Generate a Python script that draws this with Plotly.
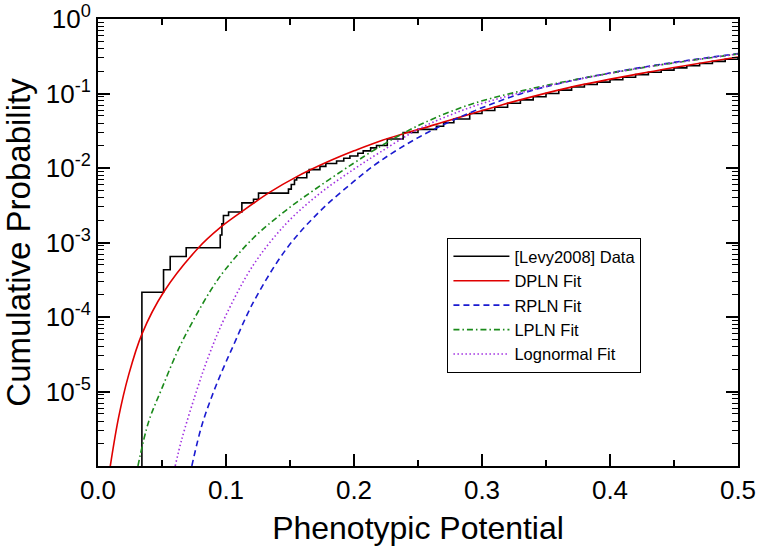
import plotly.graph_objects as go

# ---- data ----
data_x = [0.0343, 0.0343, 0.0512, 0.0564, 0.0689, 0.0955, 0.0968, 0.0980, 0.1020, 0.1124,
          0.1215, 0.1254, 0.1488, 0.1510, 0.1535, 0.1552, 0.1631, 0.1650, 0.1734, 0.1780,
          0.1864, 0.1920, 0.1968, 0.2030, 0.2072, 0.2130, 0.2176, 0.2260, 0.2384, 0.2500,
          0.2644, 0.2700, 0.2780, 0.2904, 0.3000, 0.3100, 0.3200, 0.3300, 0.3400, 0.3500,
          0.3600, 0.3700, 0.3800, 0.3900, 0.4000, 0.4100, 0.4200, 0.4300, 0.4400, 0.4500,
          0.4600, 0.4700, 0.4800, 0.4900, 0.5000]
data_y = [1e-7, 2.15e-4, 4.3e-4, 6.5e-4, 8.5e-4, 1.26e-3, 1.78e-3, 2.3e-3, 2.57e-3, 3.4e-3,
          3.8e-3, 4.6e-3, 5.2e-3, 6.0e-3, 6.9e-3, 7.4e-3, 8.7e-3, 9.5e-3, 0.0105, 0.0115,
          0.0124, 0.0135, 0.0145, 0.0158, 0.0170, 0.0186, 0.0200, 0.0245, 0.0300, 0.0330,
          0.0363, 0.0405, 0.0455, 0.0540, 0.0590, 0.0655, 0.0740, 0.0820, 0.0905, 0.1000,
          0.1110, 0.1220, 0.1320, 0.1420, 0.1530, 0.1650, 0.1790, 0.1930, 0.2060, 0.2210,
          0.2360, 0.2530, 0.2700, 0.2880, 0.3050]

dpln_x = [0.0096, 0.0161, 0.0239, 0.0343, 0.0512, 0.0785, 0.0954, 0.111, 0.134, 0.155,
          0.179, 0.200, 0.220, 0.264, 0.316, 0.368, 0.428, 0.500]
dpln_y = [1.0e-6, 4.5e-6, 1.66e-5, 5.9e-5, 2.15e-4, 8.5e-4, 1.58e-3, 2.5e-3, 4.7e-3, 7.6e-3,
          0.0120, 0.0170, 0.0229, 0.0385, 0.0708, 0.120, 0.191, 0.309]

rpln_x = [0.0733, 0.0811, 0.0902, 0.0993, 0.1045, 0.1214, 0.1474, 0.1734, 0.1994, 0.2202,
          0.2514, 0.2904, 0.3294, 0.368, 0.428, 0.500]
rpln_y = [1.0e-6, 3.5e-6, 9.8e-6, 2.34e-5, 3.7e-5, 1.58e-4, 8.3e-4, 2.63e-3, 6.5e-3, 0.0123,
          0.0263, 0.055, 0.098, 0.146, 0.229, 0.343]

lpln_x = [0.0312, 0.0395, 0.0499, 0.0629, 0.0759, 0.0889, 0.0993, 0.1214, 0.1474, 0.1734,
          0.1994, 0.2176, 0.2514, 0.2904, 0.3294, 0.368, 0.428, 0.500]
lpln_y = [1.0e-6, 3.9e-6, 1.1e-5, 3.7e-5, 1.0e-4, 2.4e-4, 4.3e-4, 1.15e-3, 2.75e-3, 5.75e-3,
          0.0115, 0.0182, 0.038, 0.0708, 0.107, 0.148, 0.226, 0.339]

logn_x = [0.0603, 0.0655, 0.0759, 0.0863, 0.0993, 0.1214, 0.1474, 0.1734, 0.1994,
          0.2202, 0.2514, 0.2904, 0.3294, 0.368, 0.428, 0.500]
logn_y = [1.0e-6, 2.3e-6, 8.9e-6, 2.95e-5, 1.0e-4, 5.0e-4, 1.82e-3, 4.57e-3, 9.5e-3,
          0.0162, 0.0339, 0.0646, 0.102, 0.146, 0.226, 0.339]

x_ticks = [0.0, 0.1, 0.2, 0.3, 0.4, 0.5]
x_minor = [0.05, 0.15, 0.25, 0.35, 0.45]
y_ticks = [1, 1e-1, 1e-2, 1e-3, 1e-4, 1e-5]
y_ticktext = ["10<sup>0</sup>", "10<sup>-1</sup>", "10<sup>-2</sup>", "10<sup>-3</sup>",
              "10<sup>-4</sup>", "10<sup>-5</sup>"]
y_minor = [k * 10.0 ** e for e in range(-6, 0) for k in range(2, 10)]

FONT = "Liberation Sans, Arial, Helvetica, sans-serif"

fig = go.Figure()
fig.add_trace(go.Scatter(x=data_x, y=data_y, mode="lines", name="[Levy2008] Data",
                         line=dict(color="black", width=1.6, shape="hv")))
fig.add_trace(go.Scatter(x=dpln_x, y=dpln_y, mode="lines", name="DPLN Fit",
                         line=dict(color="#e00000", width=1.6, shape="spline", smoothing=1.0)))
fig.add_trace(go.Scatter(x=rpln_x, y=rpln_y, mode="lines", name="RPLN Fit",
                         line=dict(color="#1a1ad0", width=1.6, dash="6px,4px", shape="spline", smoothing=1.0)))
fig.add_trace(go.Scatter(x=lpln_x, y=lpln_y, mode="lines", name="LPLN Fit",
                         line=dict(color="#1a8a1a", width=1.6, dash="6px,3px,1.5px,3px", shape="spline", smoothing=1.0)))
fig.add_trace(go.Scatter(x=logn_x, y=logn_y, mode="lines", name="Lognormal Fit",
                         line=dict(color="#a030e0", width=1.6, dash="1.5px,2.5px", shape="spline", smoothing=1.0)))

fig.update_layout(
    width=759, height=552,
    margin=dict(l=98, r=21, t=19, b=86, autoexpand=False),
    paper_bgcolor="white", plot_bgcolor="white",
    font=dict(family=FONT, color="black", size=26),
    showlegend=True,
    legend=dict(x=0.546, y=0.51, xanchor="left", yanchor="top",
                bordercolor="black", borderwidth=1, bgcolor="white",
                font=dict(size=16.5, family=FONT), itemwidth=56,
                tracegroupgap=0),
)
fig.update_xaxes(
    range=[0, 0.5], tickvals=x_ticks, tickformat=".1f", automargin=False,
    ticks="inside", ticklen=12, tickwidth=1.5, tickcolor="black",
    showline=True, linecolor="black", linewidth=2, mirror="allticks",
    showgrid=False, zeroline=False,
    tickfont=dict(size=26),
    minor=dict(tickvals=x_minor, ticks="inside", ticklen=6, tickwidth=1.5, tickcolor="black", showgrid=False),
    title=dict(text="Phenotypic Potential", font=dict(size=32), standoff=12),
)
fig.update_yaxes(
    type="log", range=[-6, 0], tickvals=y_ticks, ticktext=y_ticktext, automargin=False,
    ticks="inside", ticklen=12, tickwidth=1.5, tickcolor="black",
    showline=True, linecolor="black", linewidth=2, mirror="allticks",
    showgrid=False, zeroline=False,
    tickfont=dict(size=26),
    minor=dict(tickvals=y_minor, ticks="inside", ticklen=6, tickwidth=1, tickcolor="black", showgrid=False),
    title=dict(text="Cumulative Probability", font=dict(size=33), standoff=8),
)

fig.write_html("out.html", config={"displayModeBar": False},
               post_script="document.body.style.margin='0px';document.body.style.padding='0px';document.body.style.overflow='hidden';")
